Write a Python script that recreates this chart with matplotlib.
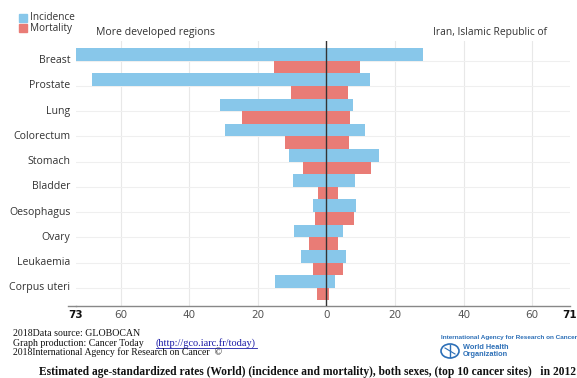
import matplotlib
matplotlib.use("Agg")
import matplotlib.pyplot as plt
from matplotlib.patches import Rectangle, Ellipse

categories = ["Breast", "Prostate", "Lung", "Colorectum", "Stomach", "Bladder",
              "Oesophagus", "Ovary", "Leukaemia", "Corpus uteri"]
dev_incidence = [73.0, 68.4, 31.1, 29.5, 10.9, 9.8, 3.9, 9.4, 7.5, 15.0]
dev_mortality = [15.2, 10.4, 24.5, 12.0, 6.7, 2.6, 3.2, 5.2, 3.8, 2.8]
iran_incidence = [28.2, 12.6, 7.8, 11.2, 15.4, 8.4, 8.5, 4.9, 5.8, 2.5]
iran_mortality = [9.8, 6.2, 6.8, 6.6, 12.9, 3.4, 7.9, 3.5, 4.7, 0.8]
xlim_left, xlim_right = 73, 71
tick_vals = [20, 40, 60]

W, H = 577, 378
fig = plt.figure(figsize=(W / 100, H / 100), dpi=100)
fig.patch.set_facecolor("white")

def fx(x):
    return x / W

def fy(y):
    return 1 - y / H

SANS = "Open Sans"
SERIF = "Liberation Serif"
BLUE = "#88C7EA"
RED = "#E97C76"

ax = fig.add_axes([fx(76), fy(306), fx(570) - fx(76), fy(41) - fy(306)])
ax.set_facecolor("white")

n = len(categories)
ys = list(range(n))
inc_y = [y - 0.25 for y in ys]
mort_y = [y + 0.25 for y in ys]

ax.barh(inc_y, [-v for v in dev_incidence], height=0.5, color=BLUE, zorder=2, linewidth=0)
ax.barh(inc_y, iran_incidence, height=0.5, color=BLUE, zorder=2, linewidth=0)
ax.barh(mort_y, [-v for v in dev_mortality], height=0.5, color=RED, zorder=2, linewidth=0)
ax.barh(mort_y, iran_mortality, height=0.5, color=RED, zorder=2, linewidth=0)

ax.set_xlim(-xlim_left, xlim_right)
ax.set_ylim(9.72, -0.78)

for v in tick_vals:
    ax.axvline(-v, color="#e8e8e8", lw=0.8, zorder=0)
    ax.axvline(v, color="#e8e8e8", lw=0.8, zorder=0)
for y in ys:
    ax.axhline(y, color="#efefef", lw=0.8, zorder=0)
ax.axvline(0, color="#333333", lw=1.0, zorder=3)

xt = [-xlim_left] + [-v for v in reversed(tick_vals)] + [0] + tick_vals + [xlim_right]
xl = [str(xlim_left)] + [str(v) for v in reversed(tick_vals)] + ["0"] + [str(v) for v in tick_vals] + [str(xlim_right)]
ax.set_xticks(xt)
ax.set_xticklabels(xl)
ax.tick_params(axis="x", length=0, pad=3, labelsize=7.5, labelcolor="#555555")
tl = ax.get_xticklabels()
for t in (tl[0], tl[-1]):
    t.set_fontweight("bold")
    t.set_color("#111111")
ax.set_yticks(ys)
ax.set_yticklabels(categories, fontfamily=SANS, fontsize=7.6, color="#333333")
ax.tick_params(axis="y", length=0, pad=4)
for lab in ax.get_yticklabels():
    lab.set_verticalalignment("center")

for s in ["top", "right", "left"]:
    ax.spines[s].set_visible(False)
ax.spines["bottom"].set_color("#888888")
ax.spines["bottom"].set_linewidth(1.0)
# slight extension of the axis line to the left, as in the reference
fig.add_artist(plt.Line2D([fx(68), fx(76)], [fy(306), fy(306)], color="#888888", lw=1.0))

# Panel titles
fig.text(fx(96), fy(32), "More developed regions", fontfamily=SANS, fontsize=7.6,
         color="#333333", ha="left", va="center")
fig.text(fx(433), fy(32), "Iran, Islamic Republic of", fontfamily=SANS, fontsize=7.4,
         color="#333333", ha="left", va="center")

# Legend
for yy, col, lab in [(18, BLUE, "Incidence"), (28, RED, "Mortality")]:
    fig.patches.append(Rectangle((fx(19), fy(yy + 4)), fx(8), 8 / H, color=col,
                                 transform=fig.transFigure, figure=fig))
    fig.text(fx(30), fy(yy), lab, fontfamily=SANS, fontsize=7.2, color="#333333",
             ha="left", va="center")

# Footer
fig.text(fx(13), fy(334), "2018Data source: GLOBOCAN", fontfamily=SERIF, fontsize=7.1,
         color="#111111", ha="left", va="center")
fig.text(fx(13), fy(343.5), "Graph production: Cancer Today  ", fontfamily=SERIF,
         fontsize=7.1, color="#111111", ha="left", va="center")
fig.text(fx(156), fy(343.5), "(http://gco.iarc.fr/today)", fontfamily=SERIF, fontsize=7.4,
         color="#1a1aa6", ha="left", va="center")
fig.add_artist(plt.Line2D([fx(156), fx(257)], [fy(348), fy(348)], color="#1a1aa6", lw=0.6))
fig.text(fx(13), fy(352.5), "2018International Agency for Research on Cancer  \u00a9",
         fontfamily=SERIF, fontsize=7.0, color="#111111", ha="left", va="center")
fig.text(fx(39), fy(371.5),
         "Estimated age-standardized rates (World) (incidence and mortality), both sexes, (top 10 cancer sites)   in 2012",
         fontfamily=SERIF, fontsize=8.3, fontweight="bold", color="#111111",
         ha="left", va="center")

# IARC / WHO logos (text-based)
fig.text(fx(441), fy(338), "International Agency for Research on Cancer",
         fontfamily="Liberation Sans", fontsize=4.6, fontweight="bold", color="#2C6FB7",
         ha="left", va="center")
fig.patches.append(Ellipse((fx(450), fy(351)), fx(18), 14 / H, fill=False,
                           edgecolor="#2C6FB7", lw=1.2, transform=fig.transFigure,
                           figure=fig))
fig.add_artist(plt.Line2D([fx(450), fx(450)], [fy(345), fy(357)], color="#2C6FB7", lw=1.0))
fig.add_artist(plt.Line2D([fx(445), fx(455)], [fy(348), fy(354)], color="#2C6FB7", lw=0.8))
fig.text(fx(463), fy(347.5), "World Health", fontfamily="Liberation Sans", fontsize=5.3,
         fontweight="bold", color="#2C6FB7", ha="left", va="center")
fig.text(fx(463), fy(354.5), "Organization", fontfamily="Liberation Sans", fontsize=5.3,
         fontweight="bold", color="#2C6FB7", ha="left", va="center")

fig.savefig("out.png", dpi=100, facecolor="white")
